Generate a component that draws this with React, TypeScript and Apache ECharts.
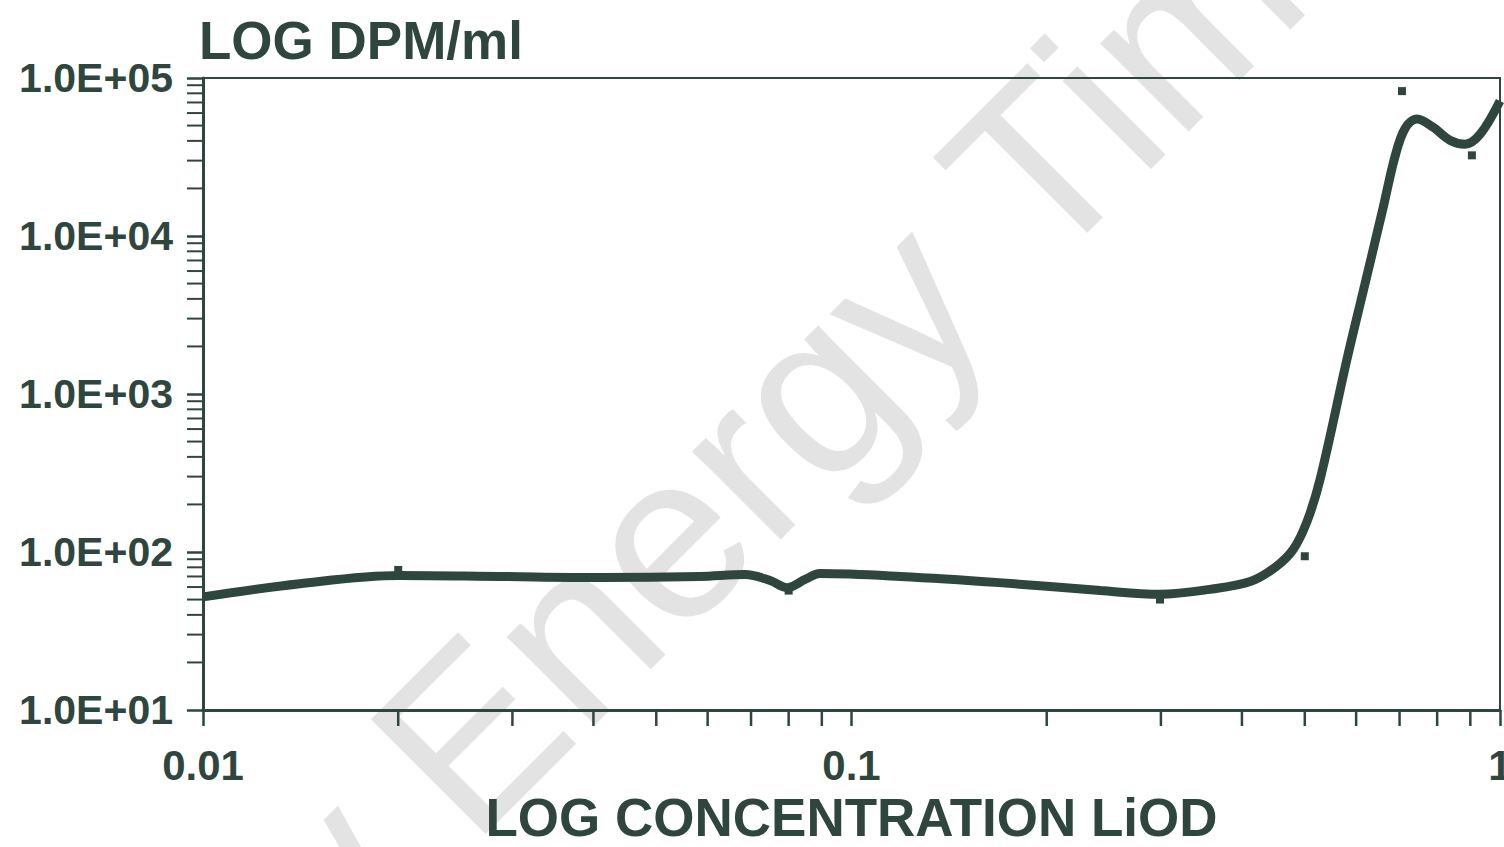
import React, { useEffect, useRef } from "react";
import * as echarts from "echarts";

// LiOD concentration (x) and activity in DPM/ml (y)
const concentration = [
  0.01, 0.0141, 0.0201, 0.0287, 0.041, 0.0584, 0.0685, 0.0749, 0.0795, 0.0848,
  0.0894, 0.119, 0.169, 0.242, 0.299, 0.357, 0.412, 0.45, 0.48, 0.504, 0.528,
  0.581, 0.615, 0.66, 0.689, 0.714, 0.745, 0.788, 0.837, 0.883, 0.932, 1.0,
];
const dpm = [
  52, 63, 71, 70, 69, 70, 72, 66, 59.5, 67, 73, 70, 64, 57, 54, 58, 65, 80, 104,
  156, 289, 1670, 4440, 14950, 32000, 48000, 55000, 48900, 40400, 38100, 44100,
  71500,
];

// individual measured points
const pointConc = [0.02, 0.08, 0.299, 0.5, 0.706, 0.905];
const pointDpm = [77, 57, 50, 94, 82600, 32400];

// minor tick values of the log axes
const xMinorTicks = [0.02, 0.03, 0.04, 0.05, 0.06, 0.07, 0.08, 0.09, 0.2, 0.3, 0.4, 0.5, 0.6, 0.7, 0.8, 0.9];
const yMinorTicks = [
  20, 30, 40, 50, 60, 70, 80, 90,
  200, 300, 400, 500, 600, 700, 800, 900,
  2000, 3000, 4000, 5000, 6000, 7000, 8000, 9000,
  20000, 30000, 40000, 50000, 60000, 70000, 80000, 90000,
];

const xName = "LOG CONCENTRATION LiOD";
const yName = "LOG DPM/ml";
const watermark = "New Energy Times";

const C = "#2f463f";
const FONT = "'Liberation Sans', Arial, Helvetica, sans-serif";

export default function App() {
  const ref = useRef<HTMLDivElement>(null);

  useEffect(() => {
    if (!ref.current) return;
    const chart = echarts.init(ref.current, undefined, { renderer: "svg" });
    const fmtY = (v: number) => {
      const e = Math.round(Math.log10(v));
      return "1.0E+" + String(e).padStart(2, "0");
    };
    const fmtX = (v: number) => String(+Number(v).toPrecision(1));
    chart.setOption({
      animation: false,
      backgroundColor: "#ffffff",
      title: {
        text: yName,
        left: 194,
        top: 9,
        textStyle: { fontFamily: FONT, fontWeight: "bold", fontSize: 53, color: C },
      },
      graphic: [
        {
          type: "text",
          x: 34,
          y: 1170,
          rotation: Math.PI / 4,
          z: -10,
          silent: true,
          style: {
            text: watermark,
            fontFamily: FONT,
            fontSize: 236,
            fill: "#e3e3e3",
            align: "left",
            verticalAlign: "middle",
          },
        },
      ],
      grid: {
        left: 203,
        right: 4,
        top: 78,
        bottom: 137,
        show: true,
        borderColor: C,
        borderWidth: 2,
        backgroundColor: "transparent",
        containLabel: false,
        outerBoundsMode: "none",
      },
      xAxis: {
        type: "log",
        logBase: 10,
        min: 0.01,
        max: 1,
        axisLine: { show: true, lineStyle: { color: C, width: 3 } },
        axisTick: { show: true, length: 16, lineStyle: { color: C, width: 2.5 } },
        splitLine: { show: false },
        axisLabel: {
          margin: 34,
          fontSize: 42,
          fontWeight: "bold",
          fontFamily: FONT,
          color: C,
          formatter: fmtX,
          showMaxLabel: true,
          showMinLabel: true,
        },
        name: xName,
        nameLocation: "middle",
        nameGap: 80,
        nameTextStyle: { fontSize: 53, fontWeight: "bold", fontFamily: FONT, color: C },
      },
      yAxis: {
        type: "log",
        logBase: 10,
        min: 10,
        max: 100000,
        axisLine: { show: true, lineStyle: { color: C, width: 3 } },
        axisTick: { show: true, length: 16, lineStyle: { color: C, width: 2.5 } },
        splitLine: { show: false },
        axisLabel: {
          margin: 30,
          fontSize: 41,
          fontWeight: "bold",
          fontFamily: FONT,
          color: C,
          formatter: fmtY,
        },
      },
      series: [
        {
          name: "DPM/ml",
          type: "line",
          data: concentration.map((c, i) => [c, dpm[i]]),
          symbol: "none",
          smooth: 0.35,
          lineStyle: { color: C, width: 9 },
          z: 3,
        },
        {
          name: "points",
          type: "scatter",
          data: pointConc.map((c, i) => [c, pointDpm[i]]),
          symbol: "rect",
          symbolSize: 8,
          itemStyle: { color: C, opacity: 1 },
          z: 4,
        },
        {
          name: "xMinor",
          type: "scatter",
          data: xMinorTicks.map((v) => [v, 10]),
          symbol: "rect",
          symbolSize: [2.5, 16],
          symbolOffset: [0, 8],
          itemStyle: { color: C, opacity: 1 },
          clip: false,
          silent: true,
        },
        {
          name: "yMinor",
          type: "scatter",
          data: yMinorTicks.map((v) => [0.01, v]),
          symbol: "rect",
          symbolSize: [16, 2],
          symbolOffset: [-8, 0],
          itemStyle: { color: C, opacity: 1 },
          clip: false,
          silent: true,
        },
      ],
    });
    return () => chart.dispose();
  }, []);

  return (
    <div
      ref={ref}
      style={{ position: "fixed", left: 0, top: 0, width: 1504, height: 847, background: "#fff" }}
    />
  );
}
